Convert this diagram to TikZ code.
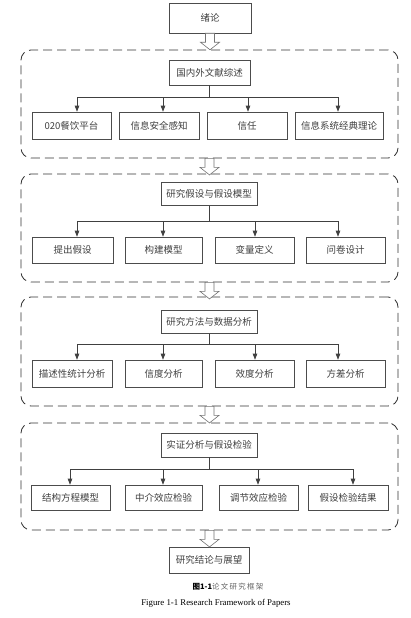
\documentclass[tikz,border=0pt]{standalone}
\usepackage{fontspec}
\setmainfont{Liberation Serif}
\newfontfamily\cjk{Noto Sans CJK SC}
\usetikzlibrary{arrows.meta,calc}
\tikzset{
  box/.style={draw=black!70, line width=0.6pt, fill=white, inner sep=0pt,
    font=\cjk\fontsize{9.5}{11}\selectfont, text=black!75},
  grp/.style={draw=black!80, line width=0.8pt, dash pattern=on 9pt off 5pt,
    rounded corners=10pt, inner sep=0pt},
  link/.style={draw=black!75, line width=0.6pt},
  arr/.style={link, -{Triangle[length=6pt,width=4.5pt]}},
  hollow/.pic={\draw[black!55, line width=0.6pt, fill=white]
    (-4.5,0) -- (4.5,0) -- (4.5,9) -- (9.5,9) -- (0,16.5) -- (-9.5,9) -- (-4.5,9) -- cycle;}
}
\begin{document}
\begin{tikzpicture}[x=1pt,y=-1pt]
\useasboundingbox[fill=white] (0,0) rectangle (411,618);

% top box
\node[box, minimum width=82pt, minimum height=30pt] (top) at (210,18) {绪论};

% groups
\node[grp, minimum width=377pt, minimum height=108pt] (g1) at (209.5,104) {};
\node[grp, minimum width=377pt, minimum height=108pt] (g2) at (209.5,228) {};
\node[grp, minimum width=377pt, minimum height=109pt] (g3) at (209.5,351.5) {};
\node[grp, minimum width=377pt, minimum height=107pt] (g4) at (209.5,476.5) {};

% titles
\node[box, minimum width=81pt, minimum height=25pt] (t1) at (209.5,72.5) {国内外文献综述};
\node[box, minimum width=96pt, minimum height=23pt] (t2) at (209,194) {研究假设与假设模型};
\node[box, minimum width=96pt, minimum height=23pt] (t3) at (209,322) {研究方法与数据分析};
\node[box, minimum width=96pt, minimum height=24pt] (t4) at (209,445) {实证分析与假设检验};

% group 1 boxes
\node[box, minimum width=79pt, minimum height=27pt] (b11) at (71.5,125.5) {020餐饮平台};
\node[box, minimum width=80pt, minimum height=27pt] (b12) at (159,125.5) {信息安全感知};
\node[box, minimum width=80pt, minimum height=27pt] (b13) at (247,125.5) {信任};
\node[box, minimum width=88pt, minimum height=27pt] (b14) at (339,125.5) {信息系统经典理论};
% group 2 boxes
\node[box, minimum width=81pt, minimum height=26pt] (b21) at (72.5,250) {提出假设};
\node[box, minimum width=77pt, minimum height=26pt] (b22) at (163.5,250) {构建模型};
\node[box, minimum width=79pt, minimum height=26pt] (b23) at (254.5,250) {变量定义};
\node[box, minimum width=79pt, minimum height=26pt] (b24) at (345.5,250) {问卷设计};
% group 3 boxes
\node[box, minimum width=80pt, minimum height=27pt] (b31) at (72,373.5) {描述性统计分析};
\node[box, minimum width=77pt, minimum height=27pt] (b32) at (163.5,373.5) {信度分析};
\node[box, minimum width=79pt, minimum height=27pt] (b33) at (254.5,373.5) {效度分析};
\node[box, minimum width=79pt, minimum height=27pt] (b34) at (345.5,373.5) {方差分析};
% group 4 boxes
\node[box, minimum width=79pt, minimum height=25pt] (b41) at (70.5,497.5) {结构方程模型};
\node[box, minimum width=77pt, minimum height=25pt] (b42) at (163.5,497.5) {中介效应检验};
\node[box, minimum width=79pt, minimum height=25pt] (b43) at (258.5,497.5) {调节效应检验};
\node[box, minimum width=80pt, minimum height=25pt] (b44) at (348,497.5) {假设检验结果};

% final box
\node[box, minimum width=80pt, minimum height=26pt] (fin) at (209,560) {研究结论与展望};

% bus coordinates
\coordinate (x11) at (77,97);  \coordinate (x12) at (163,97);  \coordinate (x13) at (248,97);  \coordinate (x14) at (338,97);
\coordinate (x21) at (77,221); \coordinate (x22) at (163,221); \coordinate (x23) at (255,221); \coordinate (x24) at (338,221);
\coordinate (x31) at (77,344); \coordinate (x32) at (163,344); \coordinate (x33) at (255,344); \coordinate (x34) at (338,344);
\coordinate (x41) at (70,469); \coordinate (x42) at (163,469); \coordinate (x43) at (258,469); \coordinate (x44) at (353,469);

\foreach \g in {1,2,3,4}{
  \draw[link] (t\g.south) -- (t\g.south |- x\g1);
  \draw[link] (x\g1) -- (x\g4);
  \foreach \i in {1,2,3,4}{
    \draw[arr] (x\g\i) -- (x\g\i |- b\g\i.north);
  }
}

% hollow arrows
\pic at (top.south) {hollow};
\pic at (g1.south) {hollow};
\pic at (g2.south) {hollow};
\pic at (g3.south) {hollow};
\pic at (g4.south) {hollow};

% caption
\node[inner sep=0pt, font=\cjk\fontsize{7.5}{8}\selectfont] (cap) at (228,587)
  {\textbf{图1-1}\textcolor{black!60}{论\,文\,研\,究\,框\,架}};
\node[inner sep=0pt, font=\fontsize{8.8}{9}\selectfont] (capen) at (216,603)
  {Figure 1-1 Research Framework of Papers};
\end{tikzpicture}
\end{document}
